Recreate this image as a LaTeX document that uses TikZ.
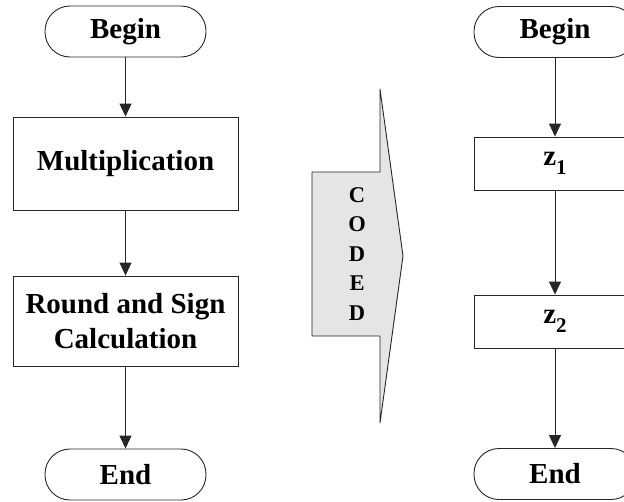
\documentclass[tikz,border=0pt]{standalone}
\usepackage{fontspec}
\setmainfont{Liberation Serif}
\usetikzlibrary{arrows.meta}
\newcommand{\lowidx}[1]{\raisebox{-9pt}{\fontsize{21}{21}\selectfont #1}}
\begin{document}
\begin{tikzpicture}[x=1pt,y=-1pt,
  lbl/.style={font=\bfseries\fontsize{29}{35}\selectfont, align=center},
  term/.style={lbl, draw=black!85, line width=0.9pt, rounded corners=25pt,
    minimum width=161pt, minimum height=51pt, inner sep=0pt},
  proc/.style={lbl, draw=black!85, line width=0.9pt,
    minimum width=#1, inner sep=0pt},
  flow/.style={draw=black!85, line width=0.9pt,
    -{Triangle[width=12pt,length=13pt]}}]
\useasboundingbox (0,0) rectangle (624,501);
\clip (0,0) rectangle (624,501);

% left flow chart
\node[term] (b1) at (125.5,31.5) {Begin};
\node[proc=225pt, minimum height=93pt] (m) at (125.5,163.5) {Multiplication};
\node[proc=225pt, minimum height=90pt] (r) at (125.5,321) {Round and Sign\\Calculation};
\node[term] (e1) at (125.5,474.5) {End};
\draw[flow] (b1) -- (m);
\draw[flow] (m) -- (r);
\draw[flow] (r) -- (e1);

% block arrow between the two charts
\draw[draw=black!85, line width=0.9pt, fill=black!10]
  (312,172) -- (380,172) -- (380,89) -- (403,256) -- (380,423)
  -- (380,336) -- (312,336) -- cycle;
\node[font=\bfseries\fontsize{22.5}{29.5}\selectfont, align=center, inner sep=0pt]
  (coded) at (357,254) {C\\O\\D\\E\\D};

% right flow chart
\node[term, minimum width=162pt] (b2) at (555,32) {Begin};
\node[proc=162pt, minimum height=53pt] (z1) at (555,163.5) {z\lowidx{1}};
\node[proc=162pt, minimum height=53pt] (z2) at (555,321.5) {z\lowidx{2}};
\node[term, minimum width=162pt] (e2) at (555,474) {End};
\draw[flow] (b2) -- (z1);
\draw[flow] (z1) -- (z2);
\draw[flow] (z2) -- (e2);
\end{tikzpicture}
\end{document}
